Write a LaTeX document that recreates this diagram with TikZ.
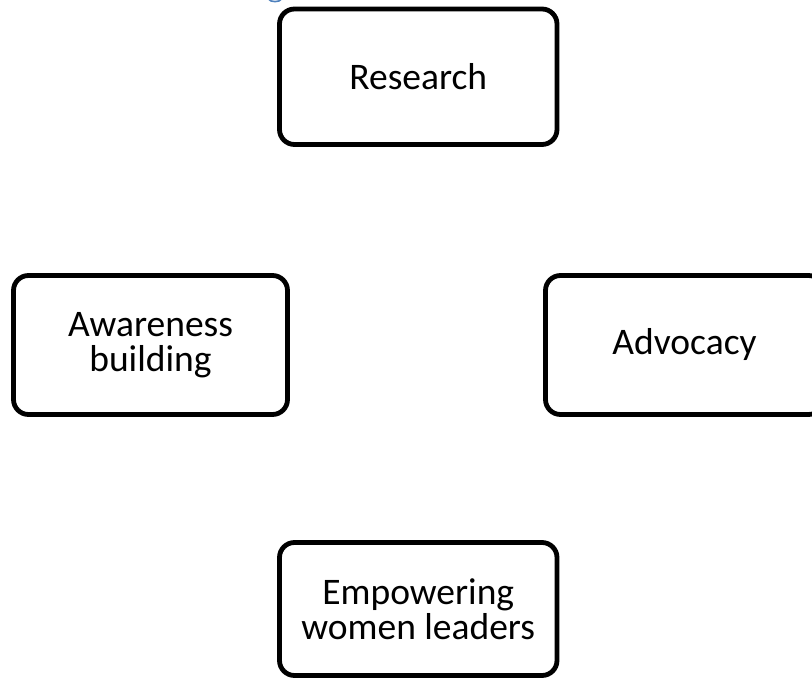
\documentclass[tikz,border=0pt]{standalone}
\usepackage{fontspec}
\setmainfont{Carlito}
\begin{document}
\begin{tikzpicture}[x=1pt,y=1pt,
  stage/.style={draw=black, line width=4.8pt, rounded corners=15pt,
    align=center, inner sep=0pt, font=\fontsize{37.5}{35}\selectfont,
    text=black},
]
\useasboundingbox (0,0) rectangle (812,-679);
\clip (0,0) rectangle (812,-679);
% tail of the heading glyph above the chart
\draw[color={rgb,255:red,79;green,129;blue,189}, line width=1.6pt]
  (268.5,1) .. controls (270,-2.5) and (280,-2.5) .. (281.5,1);
% the four activity boxes
\node[stage, minimum width=277.5pt, minimum height=135.5pt] (research)
  at (418.25,-76.75) {Research};
\node[stage, minimum width=274pt, minimum height=139pt] (awareness)
  at (150.5,-345) {Awareness\\building};
\node[stage, minimum width=278pt, minimum height=139pt] (advocacy)
  at (684.5,-345) {Advocacy};
\node[stage, minimum width=277.5pt, minimum height=133pt] (empower)
  at (418.25,-609) {Empowering\\women leaders};
\end{tikzpicture}
\end{document}
